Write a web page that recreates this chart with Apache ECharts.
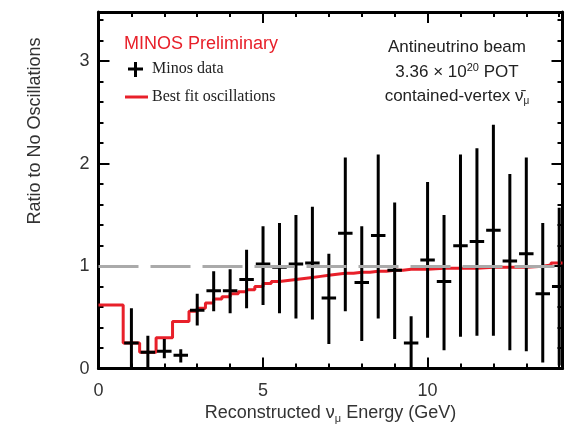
<!DOCTYPE html>
<html><head><meta charset="utf-8">
<script src="https://cdn.jsdelivr.net/npm/echarts@6/dist/echarts.min.js"></script>
<style>html,body{margin:0;padding:0;background:#fff}#c{width:565px;height:429px}</style>
</head><body><div id="c"></div>
<script>
// Data points: energy (GeV), ratio, lower error edge, upper error edge
const dataE   = [1.0,1.5,2.0,2.5,3.0,3.5,4.0,4.5,5.0,5.5,6.0,6.5,7.0,7.5,8.0,8.5,9.0,9.5,10.0,10.5,11.0,11.5,12.0,12.5,13.0,13.5,14.0];
const dataVal = [0.25,0.16,0.17,0.13,0.57,0.76,0.76,0.87,1.02,0.99,1.02,1.03,0.69,1.32,0.84,1.30,0.96,0.25,1.06,0.85,1.20,1.24,1.35,1.05,1.12,0.73,0.80];
const dataLo  = [0.00,0.00,0.10,0.06,0.42,0.56,0.54,0.59,0.62,0.54,0.49,0.48,0.24,0.56,0.27,0.49,0.29,0.01,0.30,0.18,0.31,0.32,0.32,0.18,0.17,0.06,0.03];
const dataHi  = [0.59,0.32,0.29,0.19,0.73,0.95,0.97,1.16,1.39,1.42,1.50,1.58,1.12,2.06,1.39,2.09,1.62,0.51,1.82,1.50,2.09,2.15,2.38,1.90,2.06,1.42,1.57];
// Best-fit oscillation histogram: left bin edges and bin contents
const fitEdges = [0,0.75,1.25,1.75,2.25,2.75,3.0,3.25,3.5,3.75,4.0,4.25,4.5,4.75,5.0,5.25,5.5,5.75,6.0,6.25,6.5,6.75,7.0,7.25,7.5,7.75,8.0,8.25,8.5,8.75,9.0,9.25,9.5,9.75,10.0,10.5,11.0,11.5,12.0,12.5,13.0,13.5,13.75,14.1];
const fitVals  = [0.62,0.25,0.16,0.30,0.46,0.56,0.59,0.64,0.68,0.70,0.73,0.75,0.77,0.80,0.83,0.85,0.86,0.87,0.88,0.89,0.90,0.91,0.92,0.93,0.93,0.94,0.94,0.95,0.95,0.96,0.96,0.97,0.97,0.97,0.98,0.98,0.98,0.99,0.99,0.99,1.00,1.01,1.03,1.03];
const xTicks = [0,5,10];
const yTicks = [0,1,2,3];

const chart = echarts.init(document.getElementById('c'), null, {renderer:'canvas'});
const fitData = fitEdges.map((e,i)=>[e, fitVals[i]]);
const errData = dataE.map((e,i)=>[e, dataVal[i], dataLo[i], dataHi[i]]);
const FONT = 'Liberation Sans, Arial, Helvetica, sans-serif';
const SERIF = 'Liberation Serif, Times New Roman, serif';
const XMAX = 14.1, YMAX = 3.48;

function axis(kind, pos, interval, len, withLine){
  return {
    type:'value', min:0, max: kind==='x'?XMAX:YMAX, interval:interval, position:pos,
    axisLine:{show:withLine, onZero:false, lineStyle:{color:'#000', width:3}},
    axisTick:{show:true, inside:true, length:len, lineStyle:{color:'#000', width:2}},
    axisLabel:{show:false},
    splitLine:{show:false}
  };
}

const xBottom = axis('x','bottom',5,11,true);
xBottom.axisLabel = {show:true, color:'#333', fontSize:18, fontFamily:FONT, margin:13, showMaxLabel:false,
  formatter:v=>xTicks.includes(v)?String(v):''};
xBottom.name = 'Reconstructed ν{s|μ} Energy (GeV)';
xBottom.nameLocation = 'middle';
xBottom.nameGap = 33;
xBottom.nameTextStyle = {color:'#333', fontSize:18, fontFamily:FONT,
  rich:{s:{fontSize:11, verticalAlign:'bottom', padding:[10,0,0,0], color:'#333', fontFamily:FONT}}};

const yLeft = axis('y','left',1,11,true);
yLeft.axisLabel = {show:true, color:'#333', fontSize:18, fontFamily:FONT, margin:9, showMaxLabel:false,
  formatter:v=>yTicks.includes(v)?String(v):''};

chart.setOption({
  animation:false,
  grid:{left:98.5, top:12, right:2.5, bottom:56, containLabel:false},
  xAxis:[ xBottom, axis('x','top',5,11,true), axis('x','bottom',1,5,false), axis('x','top',1,5,false) ],
  yAxis:[ yLeft, axis('y','right',1,11,true), axis('y','left',0.2,5,false), axis('y','right',0.2,5,false) ],
  series:[
    {type:'line', data:[], markLine:{silent:true, symbol:'none', label:{show:false},
      lineStyle:{color:'#aaaaaa', width:3, type:[40,12]}, data:[{yAxis:1}]}, z:1},
    {type:'line', data:fitData, step:'end', showSymbol:false, symbol:'none',
      lineStyle:{color:'#e8202a', width:3}, z:2},
    {type:'custom', data:errData, clip:true, z:3,
      renderItem:(params, api)=>{
        const x=api.value(0), y=api.value(1), lo=api.value(2), hi=api.value(3);
        const t=api.coord([x,hi]), b=api.coord([x,lo]);
        const l=api.coord([x-0.22,y]), r=api.coord([x+0.22,y]);
        return {type:'group', children:[
          {type:'line', shape:{x1:t[0],y1:t[1],x2:b[0],y2:b[1]}, style:{stroke:'#000', lineWidth:3}},
          {type:'line', shape:{x1:l[0],y1:l[1],x2:r[0],y2:r[1]}, style:{stroke:'#000', lineWidth:3}}
        ]};
      }}
  ],
  graphic:[
    {type:'text', x:35, y:131, rotation:Math.PI/2,
      style:{text:'Ratio to No Oscillations', fill:'#333', font:'18px '+FONT, align:'center', verticalAlign:'middle'}},
    {type:'text', x:124, y:44, style:{text:'MINOS Preliminary', fill:'#e8202a', font:'18px '+FONT, align:'left', verticalAlign:'middle'}},
    {type:'line', shape:{x1:128,y1:69,x2:143,y2:69}, style:{stroke:'#000', lineWidth:3}},
    {type:'line', shape:{x1:135.5,y1:62,x2:135.5,y2:77}, style:{stroke:'#000', lineWidth:3}},
    {type:'text', x:152, y:69, style:{text:'Minos data', fill:'#222', font:'16px '+SERIF, align:'left', verticalAlign:'middle'}},
    {type:'line', shape:{x1:125,y1:97,x2:148,y2:97}, style:{stroke:'#e8202a', lineWidth:3}},
    {type:'text', x:152, y:97, style:{text:'Best fit oscillations', fill:'#222', font:'16px '+SERIF, align:'left', verticalAlign:'middle'}},
    {type:'text', x:457, y:47, style:{text:'Antineutrino beam', fill:'#222', font:'17px '+FONT, align:'center', verticalAlign:'middle'}},
    {type:'text', x:457, y:72, style:{text:'3.36 × 10{sup|20} POT', fill:'#222', font:'17px '+FONT, align:'center', verticalAlign:'middle',
      rich:{sup:{fontSize:11, fontFamily:FONT, fill:'#222', verticalAlign:'top', padding:[0,0,8,0]}}}},
    {type:'text', x:457, y:96, style:{text:'contained-vertex ν\u0304{s|μ}', fill:'#222', font:'17px '+FONT, align:'center', verticalAlign:'middle',
      rich:{s:{fontSize:10, fontFamily:FONT, fill:'#222', verticalAlign:'bottom', padding:[10,0,0,0]}}}}
  ]
});
</script></body></html>
